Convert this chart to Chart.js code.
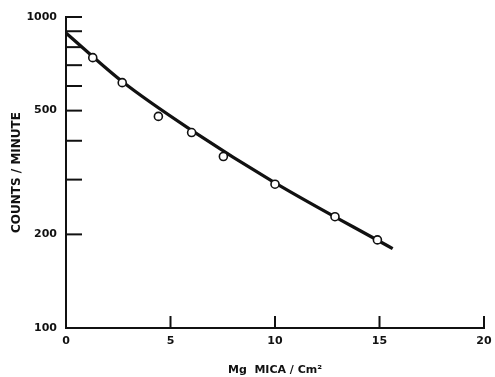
<!DOCTYPE html>
<html><head><meta charset="utf-8">
<script src="https://cdn.jsdelivr.net/npm/chart.js@4/dist/chart.umd.min.js"></script>
<style>html,body{margin:0;padding:0;background:#fff}#wrap{width:495px;height:377px}</style>
</head><body><div id="wrap"><canvas id="c"></canvas></div>
<script>
// measured points
const massX = [1.28, 2.69, 4.42, 6.01, 7.53, 10.0, 12.87, 14.9];
const counts = [740, 615, 479, 425, 356, 290, 228, 192];
// fitted curve
const curveX = [0, 2.69, 6.01, 10.0, 15.63];
const curveY = [888, 620, 432, 293, 180];
const xTicks = [0, 5, 10, 15, 20];
const yTicks = [100, 200, 300, 400, 500, 600, 700, 800, 900, 1000];
const yLabeled = [100, 200, 500, 1000];

const ink = '#111';
const tickPlugin = {
  id: 'innerTicks',
  afterDraw(chart) {
    const ctx = chart.ctx, x = chart.scales.x, y = chart.scales.y;
    const a = chart.chartArea;
    ctx.save();
    ctx.strokeStyle = ink; ctx.lineWidth = 2;
    yTicks.forEach(v => {
      if (v === 100) return;
      const py = y.getPixelForValue(v);
      ctx.beginPath(); ctx.moveTo(a.left, py); ctx.lineTo(a.left + 16, py); ctx.stroke();
    });
    xTicks.forEach(v => {
      if (v === 0) return;
      const px = x.getPixelForValue(v);
      ctx.beginPath(); ctx.moveTo(px, a.bottom); ctx.lineTo(px, a.bottom - 12); ctx.stroke();
    });
    ctx.restore();
  }
};

new Chart(document.getElementById('c'), {
  type: 'scatter',
  data: {
    datasets: [
      { type: 'line', data: curveX.map((v, i) => ({x: v, y: curveY[i]})), borderColor: ink, borderWidth: 3.2,
        pointRadius: 0, cubicInterpolationMode: 'monotone', fill: false, order: 2 },
      { data: massX.map((v, i) => ({x: v, y: counts[i]})), pointRadius: 4, pointBackgroundColor: '#fff',
        pointBorderColor: ink, pointBorderWidth: 1.6, order: 1 }
    ]
  },
  options: {
    responsive: true, maintainAspectRatio: false, animation: false,
    layout: { padding: { top: 17, right: 11, left: 0, bottom: 0 } },
    plugins: { legend: { display: false }, tooltip: { enabled: false } },
    scales: {
      x: {
        type: 'linear', min: 0, max: 20,
        afterBuildTicks: s => { s.ticks = xTicks.map(v => ({value: v})); },
        afterFit: s => { s.height = 49; s.paddingRight = 0; s.paddingLeft = 0; },
        grid: { display: false, drawTicks: false },
        border: { display: true, color: ink, width: 2 },
        ticks: { color: ink, padding: 7, font: { family: 'DejaVu Sans', size: 11, weight: 'bold' }, maxRotation: 0 },
        title: { display: true, text: 'Mg  MICA / Cm²', color: ink, padding: { top: 0, bottom: 0 },
                 font: { family: 'DejaVu Sans', size: 11, weight: 'bold' } }
      },
      y: {
        type: 'logarithmic', min: 100, max: 1000,
        afterBuildTicks: s => { s.ticks = yTicks.map(v => ({value: v})); },
        afterFit: s => { s.width = 66; s.paddingTop = 0; s.paddingBottom = 0; },
        grid: { display: false, drawTicks: false },
        border: { display: true, color: ink, width: 2 },
        ticks: { color: ink, padding: 9, autoSkip: false,
                 callback: v => yLabeled.includes(v) ? String(v) : '',
                 font: { family: 'DejaVu Sans', size: 11, weight: 'bold' } },
        title: { display: true, text: 'COUNTS / MINUTE', color: ink, padding: { top: 10, bottom: 0 },
                 font: { family: 'DejaVu Sans', size: 12, weight: 'bold' } }
      }
    }
  },
  plugins: [tickPlugin]
});
</script></body></html>
